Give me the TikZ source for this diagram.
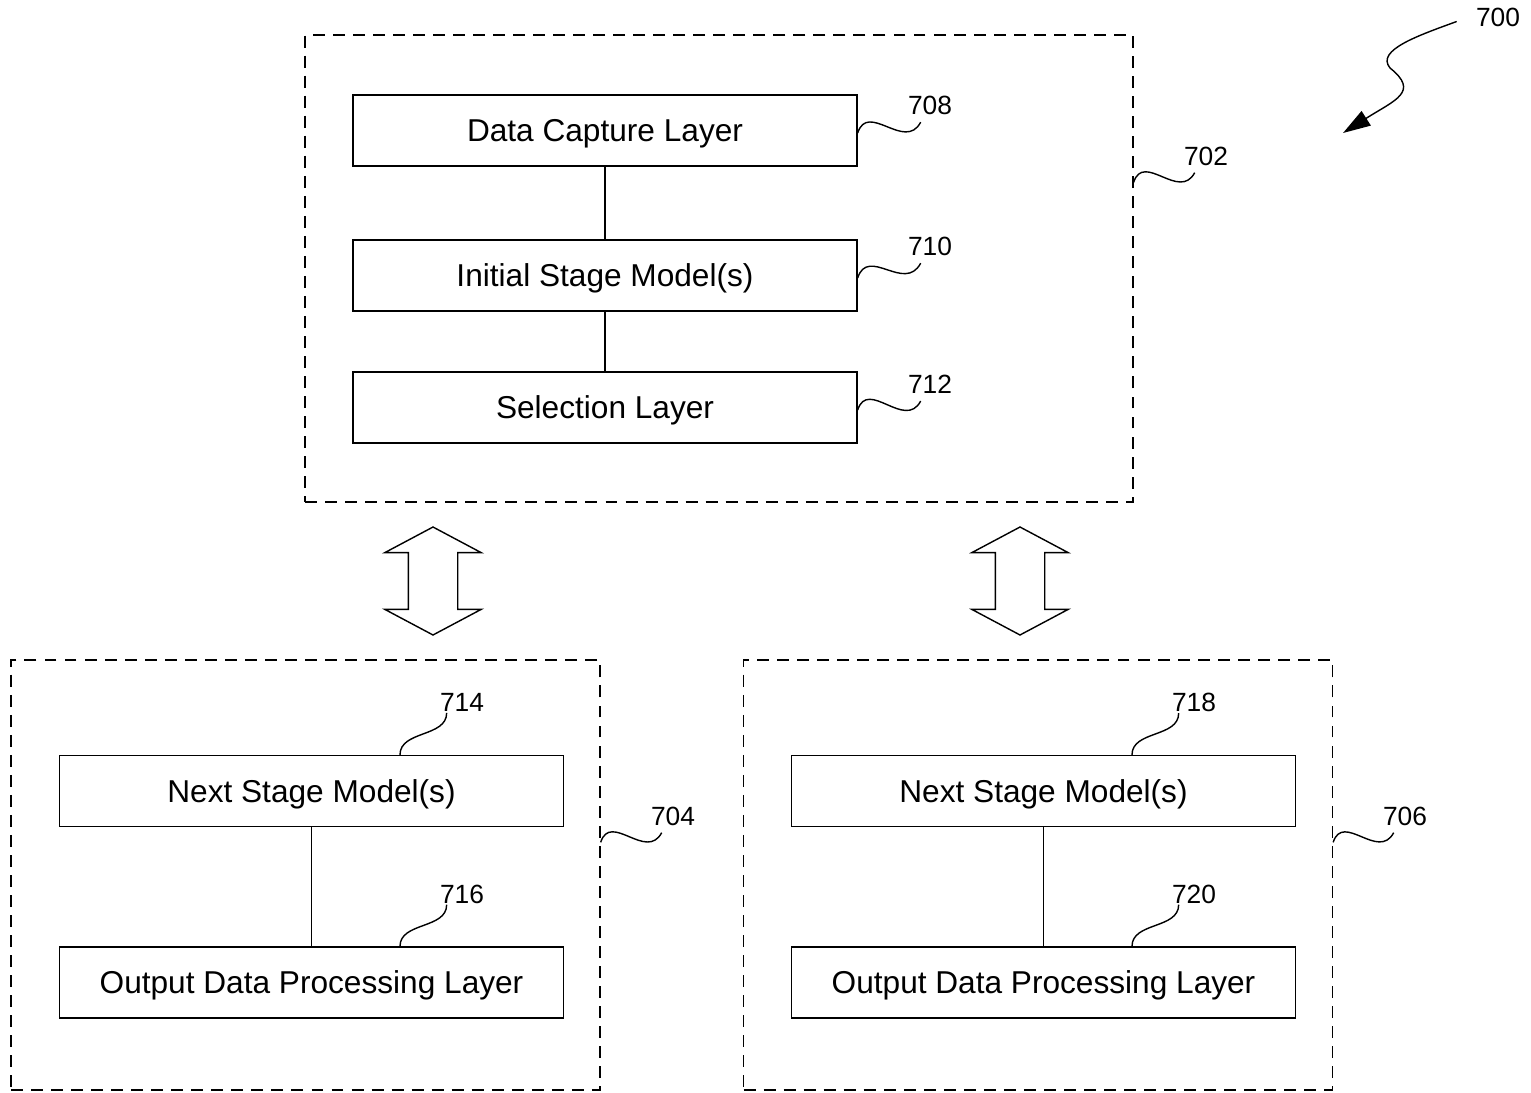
\documentclass[tikz,border=0pt]{standalone}
\usepackage{fontspec}
\setmainfont{Liberation Sans}
\usetikzlibrary{shapes.arrows,arrows.meta,positioning,calc}
\tikzset{
    layer/.style={
        rectangle, draw, line width=0.8pt,
        minimum width=10.08cm, minimum height=1.42cm, text depth=0pt,
        align=center, font=\fontsize{18}{22}\selectfont
    },
    module/.style={
        rectangle, draw, line width=0.8pt,
        dash pattern=on 6.8pt off 4.6pt
    },
    refnum/.style={inner sep=0pt, font=\fontsize{15}{18}\selectfont},
    updown/.style={
        double arrow, draw, line width=0.8pt, rotate=90,
        minimum height=2.16cm, inner xsep=0pt, inner ysep=0.48cm,
        double arrow head extend=0.47cm, double arrow tip angle=124
    },
    lead/.style={line width=0.8pt},
    wave/.style={out=72, in=242, looseness=1.35},
    link/.style={draw,line width=0.8pt}
}
\begin{document}
\begin{tikzpicture}[x=0.02cm,y=-0.02cm]
\useasboundingbox (0,0) rectangle (1531,1092);

% ---- Modules (dashed) ----
\node[module, minimum width=16.56cm, minimum height=9.34cm] (m702) at (719,268.5) {};
\node[module, minimum width=11.78cm, minimum height=8.6cm]  (m704) at (305.5,875) {};
\node[module, minimum width=11.78cm, minimum height=8.6cm]  (m706) at (1038,875) {};

% ---- Top module layers ----
\node[layer] (dcl) at (605,130.5) {Data Capture Layer};
\node[layer] (ism) at (605,275.5) {Initial Stage Model(s)};
\node[layer] (sel) at (605,407.5) {Selection Layer};

% ---- Bottom module layers ----
\node[layer] (nsa) at (311.5,791)   {Next Stage Model(s)};
\node[layer] (oda) at (311.5,982.5) {Output Data Processing Layer};
\node[layer] (nsb) at (1043.5,791)   {Next Stage Model(s)};
\node[layer] (odb) at (1043.5,982.5) {Output Data Processing Layer};

% Layer links
\draw[link] (dcl) -- (ism);
\draw[link] (ism) -- (sel);
\draw[link] (nsa) -- (oda);
\draw[link] (nsb) -- (odb);

% ---- Two-way exchange arrows ----
\node[updown] (xa) at (433,581) {};
\node[updown] (xb) at (1020,581) {};

% ---- Reference numerals ----
\node[refnum] (r700) at (1498,17.5) {700};
\node[refnum] (r702) at (1206,156) {702};
\node[refnum] (r704) at (673,816) {704};
\node[refnum] (r706) at (1405,816) {706};
\node[refnum] (r708) at (930,105) {708};
\node[refnum] (r710) at (930,246) {710};
\node[refnum] (r712) at (930,384) {712};
\node[refnum] (r714) at (462,702.5) {714};
\node[refnum] (r716) at (462,894) {716};
\node[refnum] (r718) at (1194,702.5) {718};
\node[refnum] (r720) at (1194,894) {720};

% Leads to the numerals
\draw[lead] ($(dcl.east)+(0,2.5)$) to[wave] ($(r708.south west)+(13,7.5)$);
\draw[lead] ($(ism.east)+(0,2.5)$) to[wave] ($(r710.south west)+(13,7.5)$);
\draw[lead] ($(sel.east)+(0,2.5)$) to[wave] ($(r712.south west)+(13,7.5)$);
\draw[lead] ($(m702.north east)+(0,148)$) to[wave] ($(r702.south west)+(11,7)$);
\draw[lead] ($(m704.north east)+(0,183)$) to[wave] ($(r704.south west)+(11,7)$);
\draw[lead] ($(m706.north east)+(0,183)$) to[wave] ($(r706.south west)+(11,7)$);
\draw[lead] ($(nsa.north)+(88.5,0)$) to[out=90,in=-90] ($(r714.south west)+(7,1)$);
\draw[lead] ($(oda.north)+(88.5,0)$) to[out=90,in=-90] ($(r716.south west)+(7,1)$);
\draw[lead] ($(nsb.north)+(88.5,0)$) to[out=90,in=-90] ($(r718.south west)+(7,1)$);
\draw[lead] ($(odb.north)+(88.5,0)$) to[out=90,in=-90] ($(r720.south west)+(7,1)$);

% 700 pointer
\draw[lead,-{Triangle[length=0.55cm,width=0.34cm]}] ($(r700.west)+(-19,4)$)
    .. controls (1420,35) and (1375,50) .. (1390,68)
    .. controls (1420,92) and (1395,100) .. (1343,133);

\end{tikzpicture}
\end{document}
